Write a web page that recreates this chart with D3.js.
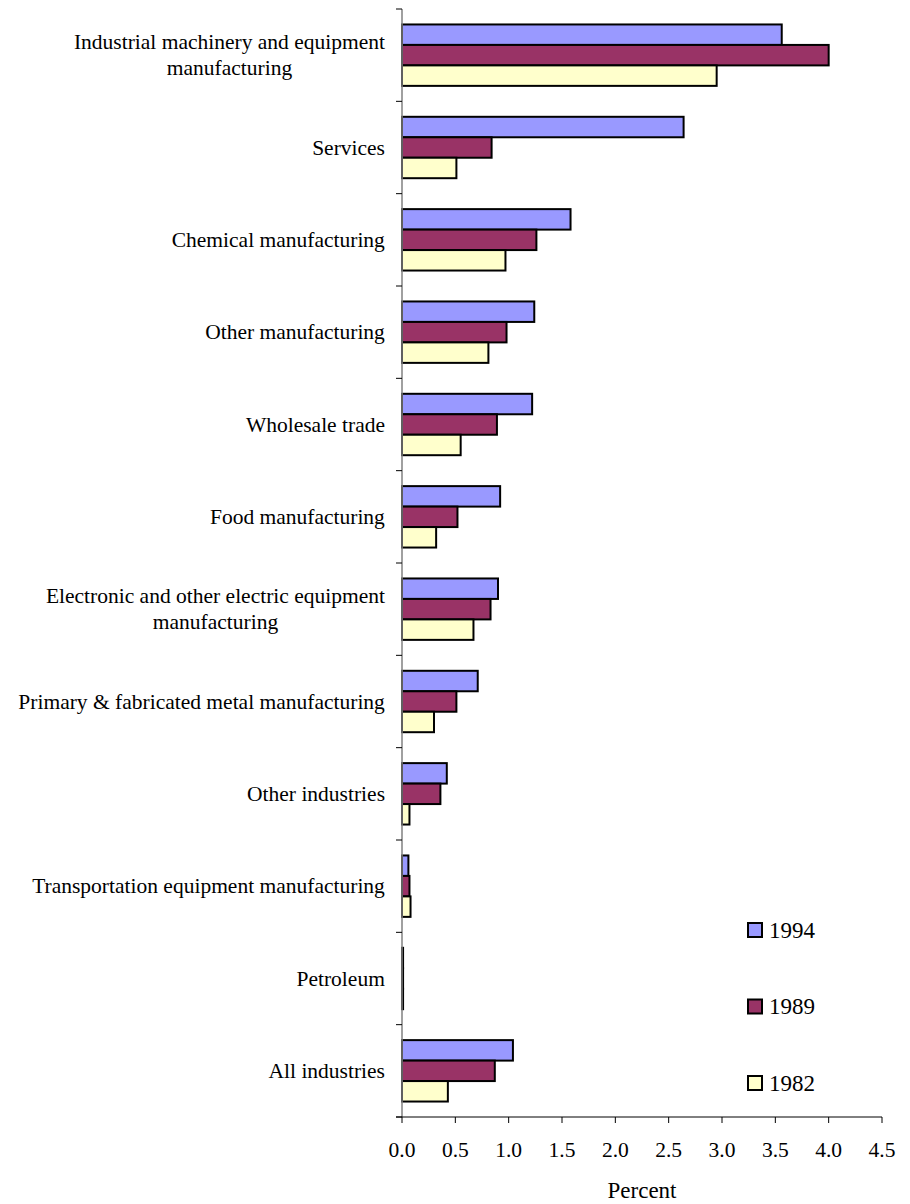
<!DOCTYPE html>
<html>
<head>
<meta charset="utf-8">
<script src="https://cdn.jsdelivr.net/npm/d3@7"></script>
<style>
  html, body { margin: 0; padding: 0; background: #fff; }
  svg { display: block; }
</style>
</head>
<body>
<svg id="chart" width="910" height="1204"></svg>
<script>
// Industry categories, top to bottom
const categories = [
  ["Industrial machinery and equipment", "manufacturing"],
  ["Services"],
  ["Chemical manufacturing"],
  ["Other manufacturing"],
  ["Wholesale trade"],
  ["Food manufacturing"],
  ["Electronic and other electric equipment", "manufacturing"],
  ["Primary & fabricated metal manufacturing"],
  ["Other industries"],
  ["Transportation equipment manufacturing"],
  ["Petroleum"],
  ["All industries"]
];

const years = ["1994", "1989", "1982"];
const colors = ["#9999FF", "#993366", "#FFFFCC"];

// Percent values per year, same order as categories
const values1994 = [3.56, 2.64, 1.58, 1.24, 1.22, 0.92, 0.90, 0.71, 0.42, 0.06, 0.01, 1.04];
const values1989 = [4.00, 0.84, 1.26, 0.98, 0.89, 0.52, 0.83, 0.51, 0.36, 0.07, 0.01, 0.87];
const values1982 = [2.95, 0.51, 0.97, 0.81, 0.55, 0.32, 0.67, 0.30, 0.07, 0.08, 0.01, 0.43];

const xTicks = [0, 0.5, 1, 1.5, 2, 2.5, 3, 3.5, 4, 4.5];

const series = [values1994, values1989, values1982];

const FONT = "'Liberation Serif', 'Times New Roman', Times, serif";

const svg = d3.select("#chart").attr("font-family", FONT);
const margin = { left: 402, right: 28, top: 9, bottom: 87 };
const W = 910, H = 1204;

const x = d3.scaleLinear().domain([0, 4.5]).range([margin.left, W - margin.right]);
const y = d3.scaleBand()
  .domain(d3.range(categories.length))
  .range([margin.top, H - margin.bottom])
  .paddingInner(0.335)
  .paddingOuter(0.1675);
const ySub = d3.scaleBand().domain(d3.range(years.length)).range([0, y.bandwidth()]);

// Bars
const groups = svg.append("g").selectAll("g")
  .data(categories.map((c, i) => i))
  .join("g")
  .attr("transform", i => `translate(0,${y(i)})`);

groups.selectAll("rect")
  .data(i => series.map((s, k) => ({ k, v: s[i] })))
  .join("rect")
  .attr("x", x(0))
  .attr("y", d => ySub(d.k))
  .attr("width", d => x(d.v) - x(0))
  .attr("height", ySub.bandwidth())
  .attr("fill", d => colors[d.k])
  .attr("stroke", "#000")
  .attr("stroke-width", 2);

// Vertical category axis
const bandStep = y.step();
const yAxisG = svg.append("g");
yAxisG.append("line")
  .attr("x1", x(0)).attr("x2", x(0))
  .attr("y1", margin.top).attr("y2", H - margin.bottom)
  .attr("stroke", "#808080").attr("stroke-width", 1.5);
yAxisG.selectAll("line.tick")
  .data(d3.range(categories.length + 1))
  .join("line")
  .attr("class", "tick")
  .attr("x1", x(0) - 6).attr("x2", x(0))
  .attr("y1", i => margin.top + i * bandStep)
  .attr("y2", i => margin.top + i * bandStep)
  .attr("stroke", "#000").attr("stroke-width", 1);

// Category labels
const labelG = svg.append("g")
  .attr("font-size", 21.5)
  .attr("fill", "#000");
categories.forEach((lines, i) => {
  const cy = y(i) + y.bandwidth() / 2;
  const lh = 26;
  const t = labelG.append("text")
    .attr("text-anchor", "middle")
    .attr("dominant-baseline", "central");
  lines.forEach((ln, j) => {
    t.append("tspan")
      .attr("x", 0)
      .attr("y", cy + (j - (lines.length - 1) / 2) * lh)
      .text(ln);
  });
  // right-align the block at the axis, centring lines within it
  const bw = t.node().getBBox().width;
  t.selectAll("tspan").attr("x", 385 - bw / 2);
});

// Horizontal value axis
const xAxisY = H - margin.bottom;
const xAxisG = svg.append("g").attr("transform", `translate(0,${xAxisY})`);
xAxisG.append("line")
  .attr("x1", x(0) - 6).attr("x2", x(4.5))
  .attr("stroke", "#000").attr("stroke-width", 1);
xAxisG.selectAll("line.tick")
  .data(xTicks)
  .join("line")
  .attr("class", "tick")
  .attr("x1", d => x(d)).attr("x2", d => x(d))
  .attr("y1", 0).attr("y2", 6)
  .attr("stroke", "#000").attr("stroke-width", 1);
xAxisG.selectAll("text")
  .data(xTicks)
  .join("text")
  .attr("x", d => x(d))
  .attr("y", 33)
  .attr("text-anchor", "middle")
  .attr("dominant-baseline", "central")
  .attr("font-size", 21.5)
  .text(d => d3.format(".1f")(d));

svg.append("text")
  .attr("x", (x(0) + x(4.5)) / 2)
  .attr("y", 1190)
  .attr("text-anchor", "middle")
  .attr("dominant-baseline", "central")
  .attr("font-size", 23)
  .text("Percent");

// Legend
const legend = svg.append("g");
years.forEach((yr, k) => {
  const ly = 930 + k * 76.5;
  legend.append("rect")
    .attr("x", 748).attr("y", ly - 7)
    .attr("width", 14).attr("height", 14)
    .attr("fill", colors[k])
    .attr("stroke", "#000").attr("stroke-width", 2);
  legend.append("text")
    .attr("x", 769).attr("y", ly)
    .attr("dominant-baseline", "central")
    .attr("font-size", 23)
    .text(yr);
});
</script>
</body>
</html>
